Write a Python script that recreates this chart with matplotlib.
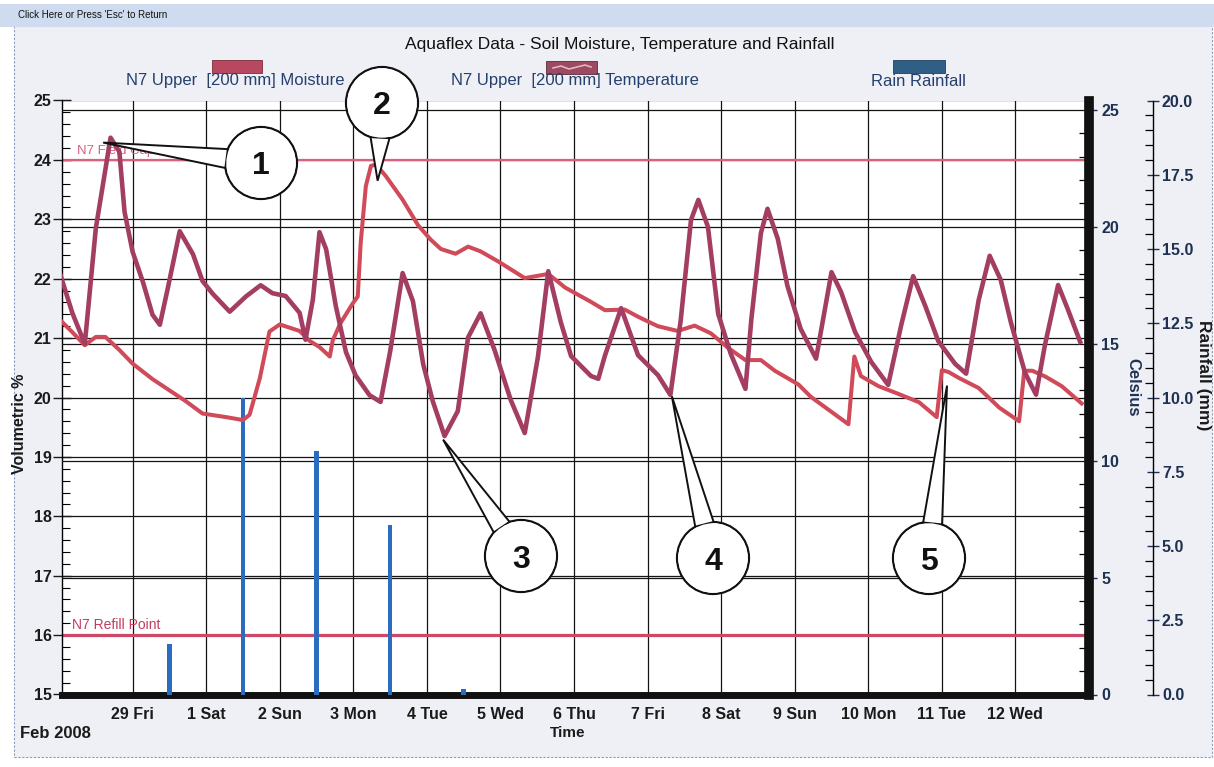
import matplotlib
matplotlib.use('Agg')
import numpy as np
import matplotlib.pyplot as plt
from matplotlib.patches import Rectangle, Circle, Polygon
from matplotlib.lines import Line2D
from matplotlib.ticker import MultipleLocator, FormatStrFormatter

plt.rcParams['font.family'] = ['Liberation Sans', 'DejaVu Sans']

# ---------------- data (x = days since 28 Feb 2008 00:00) ----------------
day_ticks = [1, 2, 3, 4, 5, 6, 7, 8, 9, 10, 11, 12, 13]
day_labels = ['29 Fri', '1 Sat', '2 Sun', '3 Mon', '4 Tue', '5 Wed', '6 Thu',
              '7 Fri', '8 Sat', '9 Sun', '10 Mon', '11 Tue', '12 Wed']

# N7 Upper [200 mm] Moisture (volumetric %)
moist_day = [0.01, 0.18, 0.35, 0.50, 0.63, 0.82, 1.00, 1.27, 1.72, 1.95,
             2.27, 2.50, 2.59, 2.73, 2.86, 3.00, 3.27, 3.41, 3.54, 3.68,
             3.72, 3.82, 3.99, 4.06, 4.10, 4.17, 4.24, 4.31, 4.44, 4.67,
             4.88, 5.05, 5.19, 5.39, 5.56, 5.73, 5.97, 6.33, 6.65, 6.88,
             7.23, 7.42, 7.69, 7.87, 8.14, 8.41, 8.64, 8.86, 9.10, 9.33,
             9.54, 9.73, 10.05, 10.22, 10.73, 10.81, 10.90, 11.14, 11.37, 11.69,
             11.93, 12.00, 12.09, 12.23, 12.50, 12.78, 13.05, 13.12, 13.23, 13.41,
             13.63, 13.90]
moist_val = [21.31, 21.10, 20.88, 21.02, 21.02, 20.80, 20.57, 20.31, 19.94, 19.73,
             19.67, 19.62, 19.71, 20.33, 21.11, 21.23, 21.12, 20.95, 20.85, 20.69,
             20.96, 21.24, 21.58, 21.70, 22.60, 23.56, 23.90, 23.92, 23.73, 23.33,
             22.90, 22.66, 22.50, 22.42, 22.54, 22.46, 22.29, 22.01, 22.08, 21.85,
             21.61, 21.47, 21.48, 21.36, 21.20, 21.12, 21.21, 21.08, 20.83, 20.63,
             20.63, 20.45, 20.22, 20.01, 19.55, 20.69, 20.36, 20.19, 20.08, 19.92,
             19.67, 20.46, 20.43, 20.33, 20.16, 19.83, 19.60, 20.45, 20.45, 20.35,
             20.19, 19.90]

# N7 Upper [200 mm] Temperature (Celsius)
temp_day = [0.01, 0.18, 0.35, 0.50, 0.70, 0.82, 0.89, 1.00, 1.14, 1.27,
            1.37, 1.48, 1.64, 1.82, 1.95, 2.09, 2.32, 2.54, 2.74, 2.90,
            3.08, 3.27, 3.35, 3.45, 3.54, 3.63, 3.76, 3.90, 4.03, 4.22,
            4.37, 4.50, 4.67, 4.81, 4.95, 5.08, 5.24, 5.42, 5.56, 5.73,
            5.92, 6.14, 6.33, 6.51, 6.65, 6.82, 6.96, 7.23, 7.33, 7.42,
            7.64, 7.87, 8.14, 8.31, 8.45, 8.59, 8.69, 8.82, 8.96, 9.13,
            9.33, 9.41, 9.54, 9.63, 9.77, 9.90, 10.08, 10.29, 10.50, 10.63,
            10.82, 11.04, 11.27, 11.45, 11.61, 11.78, 11.95, 12.18, 12.33, 12.50,
            12.65, 12.80, 12.94, 13.13, 13.28, 13.40, 13.58, 13.71, 13.88]
temp_val = [18.03, 16.32, 14.99, 19.94, 23.81, 23.21, 20.64, 18.93, 17.64, 16.24,
            15.81, 17.40, 19.81, 18.83, 17.68, 17.13, 16.37, 17.02, 17.50, 17.16,
            17.04, 16.32, 15.17, 16.89, 19.77, 19.04, 16.64, 14.64, 13.65, 12.80,
            12.51, 14.66, 18.02, 16.82, 14.12, 12.54, 11.05, 12.12, 15.27, 16.30,
            14.73, 12.59, 11.18, 14.45, 18.10, 15.92, 14.47, 13.62, 13.50, 14.49,
            16.52, 14.51, 13.66, 12.81, 16.00, 20.29, 21.15, 20.00, 16.27, 14.57,
            13.07, 16.04, 19.73, 20.77, 19.48, 17.48, 15.64, 14.36, 18.06, 17.21,
            15.50, 14.22, 13.24, 15.83, 17.89, 16.57, 15.12, 14.14, 13.72, 16.86,
            18.76, 17.73, 15.89, 13.76, 12.82, 14.93, 17.51, 16.49, 15.08]

# Rain Rainfall (mm)
rain_day = [1.5, 2.5, 3.5, 4.5, 5.5]
rain_mm = [1.7, 10.0, 8.2, 5.7, 0.2]

field_capacity = 24.0
refill_point = 16.0

# callouts: number, series the tip refers to, tip (day, value)
callout_num = ['1', '2', '3', '4', '5']
callout_series = ['temp', 'moist', 'temp', 'temp', 'moist']
callout_tip_day = [0.60, 4.33, 5.22, 8.33, 12.07]
callout_tip_val = [23.6, 23.65, 10.9, 12.75, 20.2]

# ---------------- figure ----------------
W, H = 1214, 767
fig = plt.figure(figsize=(W / 100, H / 100), dpi=100, facecolor='white')

def fpx(x, y):
    return (x / W, 1 - y / H)

# window decoration
fig.add_artist(Rectangle(fpx(14, 757), (1212 - 14) / W, (757 - 26) / H,
                         transform=fig.transFigure, facecolor='#eef0f5',
                         edgecolor='#8a9cc0', lw=0.8, ls=(0, (2, 1.5)), zorder=-10))
fig.add_artist(Rectangle(fpx(0, 27), 1, 23 / H, transform=fig.transFigure,
                         facecolor='#cfdcef', edgecolor='none', zorder=-9))
fig.text(*fpx(18, 15), "Click Here or Press 'Esc' to Return", fontsize=7,
         va='center', ha='left', color='#111')

ax = fig.add_axes([62 / W, 1 - 694.5 / H, 1027 / W, 594 / H])
ax_t = ax.twinx()
ax_r = ax.twinx()
ax.set_zorder(1)
ax_t.set_zorder(2)
ax_r.set_zorder(3)
ax.set_facecolor('white')
ax_t.patch.set_visible(False)
ax_r.patch.set_visible(False)

grid_c = '#141414'
tick_fs = 11.5

# host axis: volumetric %
ax.set_xlim(0.04, 14.0)
ax.set_ylim(15, 25)
ax.yaxis.set_major_locator(MultipleLocator(1))
ax.yaxis.set_minor_locator(MultipleLocator(0.2))
ax.set_xticks(day_ticks)
ax.set_xticklabels(day_labels)
ax.grid(True, which='major', axis='both', color=grid_c, lw=0.9)
ax.tick_params(axis='y', which='major', direction='inout', length=13, width=1,
               labelsize=tick_fs, pad=1, colors='#1a1a1a')
ax.tick_params(axis='y', which='minor', direction='in', length=6, width=0.8)
ax.tick_params(axis='x', which='both', length=0, pad=9, labelsize=tick_fs,
               colors='#1a1a1a')
for s in ['top', 'right']:
    ax.spines[s].set_visible(False)
ax.spines['left'].set_linewidth(1.0)
ax.spines['bottom'].set_linewidth(5)
ax.spines['bottom'].set_color('#111')

# celsius axis
ax_t.set_ylim(0, 25.4)
ax_t.yaxis.set_major_locator(MultipleLocator(5))
ax_t.yaxis.set_minor_locator(MultipleLocator(1))
ax_t.grid(True, which='major', axis='y', color=grid_c, lw=0.9)
ax_t.tick_params(axis='y', which='major', direction='out', length=6, width=1,
                 labelsize=tick_fs, pad=3, colors='#1f3150')
ax_t.tick_params(axis='y', which='minor', direction='in', length=7, width=0.9)
for s in ['top', 'left', 'bottom']:
    ax_t.spines[s].set_visible(False)
ax_t.spines['right'].set_linewidth(7)
ax_t.spines['right'].set_color('#111')

# rainfall axis
ax_r.spines['right'].set_position(('outward', 46))
for s in ['top', 'left', 'bottom']:
    ax_r.spines[s].set_visible(False)
ax_r.spines['right'].set_linewidth(1.0)
ax_r.yaxis.set_major_locator(MultipleLocator(2.5))
ax_r.yaxis.set_minor_locator(MultipleLocator(0.5))
ax_r.yaxis.set_major_formatter(FormatStrFormatter('%.1f'))
ax_r.tick_params(axis='y', which='major', direction='inout', length=9, width=1,
                 labelsize=tick_fs, pad=2, colors='#1f3150')
ax_r.tick_params(axis='y', which='minor', direction='in', length=6, width=0.9)

for lbl in (ax.get_xticklabels() + ax.get_yticklabels() +
            ax_t.get_yticklabels() + ax_r.get_yticklabels()):
    lbl.set_fontweight('bold')

# reference lines
ax.axhline(field_capacity, color='#d6627e', lw=1.6, zorder=2)
ax.axhline(refill_point, color='#cc4a68', lw=2.3, zorder=2)
ax.text(0.25, field_capacity + 0.05, 'N7 Field Cap', color='#d6627e',
        fontsize=9.5, va='bottom', ha='left', zorder=2)
ax.text(0.17, refill_point + 0.05, 'N7 Refill Point', color='#c43c5e',
        fontsize=10, va='bottom', ha='left', zorder=2)

# rain bars
ax_r.bar(rain_day, rain_mm, width=0.06, color='#2b6cbf', zorder=2)

# series lines (drawn on top axes, positioned with their own scales)
ax_r.plot(moist_day, moist_val, transform=ax.transData, color='#d04a5a',
          lw=2.9, zorder=3, solid_joinstyle='round')
ax_r.plot(temp_day, temp_val, transform=ax_t.transData, color='#a33e62',
          lw=3.3, zorder=4, solid_joinstyle='round')

ax_r.set_ylim(0, 20)
ax_t.set_ylim(0, 25.4)
ax.set_ylim(15, 25)
ax.set_xlim(0.04, 14.0)

# callouts as speech bubbles, on a pixel overlay
ov = fig.add_axes([0, 0, 1, 1], zorder=10)
ov.set_xlim(0, W)
ov.set_ylim(H, 0)
ov.axis('off')
ov.patch.set_visible(False)

R = 36
half_w = 9.5
callout_pos = [(261, 163), (382, 103), (521, 556), (713, 558), (929, 558)]
for num, ser, tdx, tdy, (cx, cy) in zip(callout_num, callout_series,
                                        callout_tip_day, callout_tip_val,
                                        callout_pos):
    trans = ax_t.transData if ser == 'temp' else ax.transData
    dx, dy = trans.transform((tdx, tdy))
    tx, ty = dx, H - dy
    th = np.arctan2(ty - cy, tx - cx)
    a = np.arcsin(half_w / R)
    b1 = (cx + R * np.cos(th + a), cy + R * np.sin(th + a))
    b2 = (cx + R * np.cos(th - a), cy + R * np.sin(th - a))
    ov.add_patch(Circle((cx, cy), R, fc='white', ec='#111', lw=1.6, zorder=1))
    ov.add_patch(Polygon([b1, (tx, ty), b2], closed=True, fc='white', ec='#111',
                         lw=1.4, zorder=2, joinstyle='miter'))
    ov.add_patch(Circle((cx, cy), R - 1.3, fc='white', ec='none', zorder=3))
    ov.text(cx, cy + 11.5, num, ha='center', va='baseline', fontsize=23,
            fontweight='bold', color='#111', zorder=4)

# legend (top, patch above text)
legend_text_c = '#26406e'
fig.add_artist(Rectangle(fpx(212, 73), 50 / W, 13 / H, transform=fig.transFigure,
                         facecolor='#b84860', edgecolor='#7a2a3a', lw=0.6))
fig.add_artist(Rectangle(fpx(546, 74), 51 / W, 13 / H, transform=fig.transFigure,
                         facecolor='#9c4a62', edgecolor='#5a2a3a', lw=0.6))
wx = [553, 561, 569, 577, 585, 591]
wy = [68, 66, 69, 67, 65, 67]
fig.add_artist(Line2D([x / W for x in wx], [1 - y / H for y in wy],
                      transform=fig.transFigure, color='#e6b3c2', lw=1.2))
fig.add_artist(Rectangle(fpx(893, 73), 52 / W, 13 / H, transform=fig.transFigure,
                         facecolor='#2f5f85', edgecolor='#1f3f5a', lw=0.6))
fig.text(*fpx(235, 81), 'N7 Upper  [200 mm] Moisture', fontsize=12,
         ha='center', va='center', color=legend_text_c)
fig.text(*fpx(575, 81), 'N7 Upper  [200 mm] Temperature', fontsize=12,
         ha='center', va='center', color=legend_text_c)
fig.text(*fpx(918, 81), 'Rain Rainfall', fontsize=12,
         ha='center', va='center', color=legend_text_c)

# title & axis labels
fig.text(*fpx(620, 45), 'Aquaflex Data - Soil Moisture, Temperature and Rainfall',
         fontsize=12.5, ha='center', va='center', color='#111')
fig.text(*fpx(20, 424), 'Volumetric %', rotation=90, fontsize=11.5,
         fontweight='bold', ha='center', va='center', color='#1a1a1a')
fig.text(*fpx(568, 733), 'Time', fontsize=11, fontweight='bold',
         ha='center', va='center', color='#1a1a1a')
fig.text(*fpx(20, 733), 'Feb 2008', fontsize=12, fontweight='bold',
         ha='left', va='center', color='#1a1a1a')
fig.text(*fpx(1133, 387), 'Celsius', rotation=270, fontsize=12,
         fontweight='bold', ha='center', va='center', color='#223355')
fig.text(*fpx(1203, 375), 'Rainfall (mm)', rotation=270, fontsize=12.5,
         fontweight='bold', ha='center', va='center', color='#1a1a1a')

fig.savefig('out.png', dpi=100, facecolor=fig.get_facecolor())
